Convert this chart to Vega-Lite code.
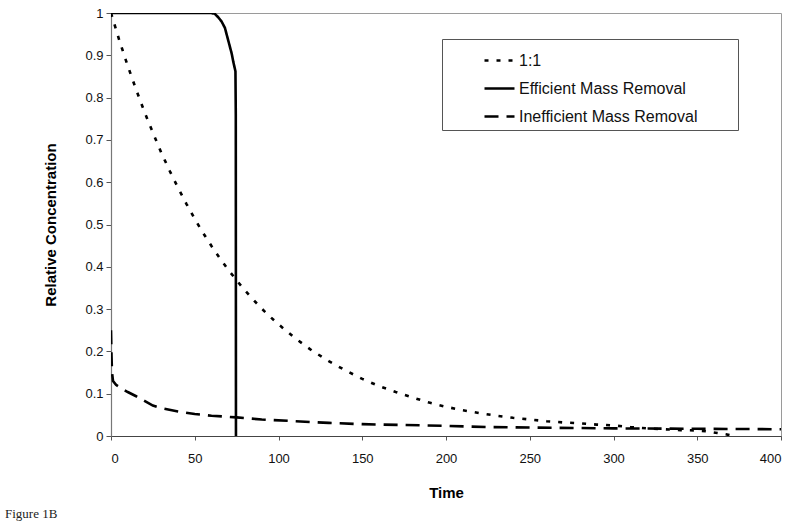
{
  "$schema": "https://vega.github.io/schema/vega-lite/v6.json",
  "width": 670,
  "height": 423,
  "autosize": {"type": "none"},
  "padding": {"left": 111, "top": 13, "right": 19, "bottom": 90},
  "background": "white",
  "title": {"text": "Figure 1B", "orient": "bottom", "anchor": "start", "frame": "group", "dx": -106, "offset": 8, "font": "Liberation Serif", "fontSize": 13, "fontWeight": "normal", "color": "#222"},
  "config": {
    "view": {"stroke": "#9a9a9a", "strokeWidth": 1},
    "axis": {"grid": false, "labelFont": "Liberation Sans", "labelFontSize": 13, "labelColor": "#111", "titleFont": "Liberation Sans", "titleFontSize": 15, "titleFontWeight": "bold", "titleColor": "#000", "tickSize": 5, "tickColor": "#555", "domainColor": "#444", "domainWidth": 1.2, "labelPadding": 3}
  },
  "data": {"values": [
    {"series": "1:1", "t": 0, "v": 1.0},
    {"series": "1:1", "t": 5, "v": 0.935},
    {"series": "1:1", "t": 10, "v": 0.875},
    {"series": "1:1", "t": 15, "v": 0.819},
    {"series": "1:1", "t": 20, "v": 0.766},
    {"series": "1:1", "t": 25, "v": 0.717},
    {"series": "1:1", "t": 30, "v": 0.670},
    {"series": "1:1", "t": 35, "v": 0.627},
    {"series": "1:1", "t": 40, "v": 0.587},
    {"series": "1:1", "t": 45, "v": 0.549},
    {"series": "1:1", "t": 50, "v": 0.513},
    {"series": "1:1", "t": 55, "v": 0.480},
    {"series": "1:1", "t": 60, "v": 0.449},
    {"series": "1:1", "t": 65, "v": 0.420},
    {"series": "1:1", "t": 70, "v": 0.393},
    {"series": "1:1", "t": 75, "v": 0.368},
    {"series": "1:1", "t": 80, "v": 0.344},
    {"series": "1:1", "t": 85, "v": 0.322},
    {"series": "1:1", "t": 90, "v": 0.301},
    {"series": "1:1", "t": 95, "v": 0.282},
    {"series": "1:1", "t": 100, "v": 0.264},
    {"series": "1:1", "t": 110, "v": 0.231},
    {"series": "1:1", "t": 120, "v": 0.202},
    {"series": "1:1", "t": 130, "v": 0.177},
    {"series": "1:1", "t": 140, "v": 0.155},
    {"series": "1:1", "t": 150, "v": 0.135},
    {"series": "1:1", "t": 160, "v": 0.118},
    {"series": "1:1", "t": 170, "v": 0.104},
    {"series": "1:1", "t": 180, "v": 0.091},
    {"series": "1:1", "t": 190, "v": 0.079},
    {"series": "1:1", "t": 200, "v": 0.069},
    {"series": "1:1", "t": 210, "v": 0.061},
    {"series": "1:1", "t": 220, "v": 0.054},
    {"series": "1:1", "t": 230, "v": 0.048},
    {"series": "1:1", "t": 240, "v": 0.043},
    {"series": "1:1", "t": 250, "v": 0.039},
    {"series": "1:1", "t": 260, "v": 0.035},
    {"series": "1:1", "t": 270, "v": 0.032},
    {"series": "1:1", "t": 280, "v": 0.030},
    {"series": "1:1", "t": 290, "v": 0.027},
    {"series": "1:1", "t": 300, "v": 0.025},
    {"series": "1:1", "t": 310, "v": 0.021},
    {"series": "1:1", "t": 320, "v": 0.018},
    {"series": "1:1", "t": 330, "v": 0.016},
    {"series": "1:1", "t": 340, "v": 0.014},
    {"series": "1:1", "t": 350, "v": 0.013},
    {"series": "1:1", "t": 356, "v": 0.011},
    {"series": "1:1", "t": 362, "v": 0.007},
    {"series": "1:1", "t": 367, "v": 0.004},
    {"series": "1:1", "t": 372, "v": 0.0},
    {"series": "Efficient Mass Removal", "t": 0, "v": 1.0},
    {"series": "Efficient Mass Removal", "t": 60, "v": 1.0},
    {"series": "Efficient Mass Removal", "t": 62, "v": 0.998},
    {"series": "Efficient Mass Removal", "t": 64, "v": 0.99},
    {"series": "Efficient Mass Removal", "t": 66, "v": 0.98},
    {"series": "Efficient Mass Removal", "t": 68, "v": 0.965},
    {"series": "Efficient Mass Removal", "t": 70, "v": 0.935},
    {"series": "Efficient Mass Removal", "t": 72, "v": 0.905},
    {"series": "Efficient Mass Removal", "t": 73, "v": 0.885},
    {"series": "Efficient Mass Removal", "t": 74.3, "v": 0.862},
    {"series": "Efficient Mass Removal", "t": 74.5, "v": 0.76},
    {"series": "Efficient Mass Removal", "t": 74.6, "v": 0.0},
    {"series": "Inefficient Mass Removal", "t": 0, "v": 0.25},
    {"series": "Inefficient Mass Removal", "t": 0.3, "v": 0.19},
    {"series": "Inefficient Mass Removal", "t": 0.6, "v": 0.15},
    {"series": "Inefficient Mass Removal", "t": 1.2, "v": 0.13},
    {"series": "Inefficient Mass Removal", "t": 3, "v": 0.121},
    {"series": "Inefficient Mass Removal", "t": 6, "v": 0.113},
    {"series": "Inefficient Mass Removal", "t": 10, "v": 0.104},
    {"series": "Inefficient Mass Removal", "t": 15, "v": 0.094},
    {"series": "Inefficient Mass Removal", "t": 20, "v": 0.083},
    {"series": "Inefficient Mass Removal", "t": 25, "v": 0.072},
    {"series": "Inefficient Mass Removal", "t": 30, "v": 0.066},
    {"series": "Inefficient Mass Removal", "t": 40, "v": 0.058},
    {"series": "Inefficient Mass Removal", "t": 50, "v": 0.052},
    {"series": "Inefficient Mass Removal", "t": 60, "v": 0.048},
    {"series": "Inefficient Mass Removal", "t": 75, "v": 0.044},
    {"series": "Inefficient Mass Removal", "t": 90, "v": 0.039},
    {"series": "Inefficient Mass Removal", "t": 110, "v": 0.035},
    {"series": "Inefficient Mass Removal", "t": 130, "v": 0.031},
    {"series": "Inefficient Mass Removal", "t": 150, "v": 0.028},
    {"series": "Inefficient Mass Removal", "t": 175, "v": 0.026},
    {"series": "Inefficient Mass Removal", "t": 200, "v": 0.024},
    {"series": "Inefficient Mass Removal", "t": 225, "v": 0.021},
    {"series": "Inefficient Mass Removal", "t": 250, "v": 0.020},
    {"series": "Inefficient Mass Removal", "t": 300, "v": 0.018},
    {"series": "Inefficient Mass Removal", "t": 350, "v": 0.017},
    {"series": "Inefficient Mass Removal", "t": 400, "v": 0.016}
  ]},
  "mark": {"type": "line", "strokeWidth": 2.6, "clip": true},
  "encoding": {
    "x": {"field": "t", "type": "quantitative", "scale": {"domain": [0, 400], "nice": false}, "axis": {"values": [0, 50, 100, 150, 200, 250, 300, 350, 400], "title": "Time", "titlePadding": 20, "labelPadding": 12, "tickSize": 4}},
    "y": {"field": "v", "type": "quantitative", "scale": {"domain": [0, 1], "nice": false}, "axis": {"values": [0, 0.1, 0.2, 0.3, 0.4, 0.5, 0.6, 0.7, 0.8, 0.9, 1], "format": "~g", "title": "Relative Concentration", "titlePadding": 26, "domainColor": "#777"}},
    "color": {"field": "series", "type": "nominal", "scale": {"domain": ["1:1", "Efficient Mass Removal", "Inefficient Mass Removal"], "range": ["#000000", "#000000", "#000000"]},
      "legend": {"orient": "none", "legendX": 331, "legendY": 26, "title": null, "strokeColor": "#555", "fillColor": "white", "padding": 5, "symbolOffset": 36, "symbolType": "stroke", "symbolSize": 900, "symbolStrokeWidth": 2.6, "labelFont": "Liberation Sans", "labelFontSize": 16, "labelColor": "#111", "labelOffset": 3, "rowPadding": 3, "labelLimit": 400, "labelExpr": "datum.label + '\u2003\u2003\u2009\u200b'"}},
    "strokeDash": {"field": "series", "type": "nominal", "scale": {"domain": ["1:1", "Efficient Mass Removal", "Inefficient Mass Removal"], "range": [[4, 8], [1, 0], [14, 8]]}}
  }
}
